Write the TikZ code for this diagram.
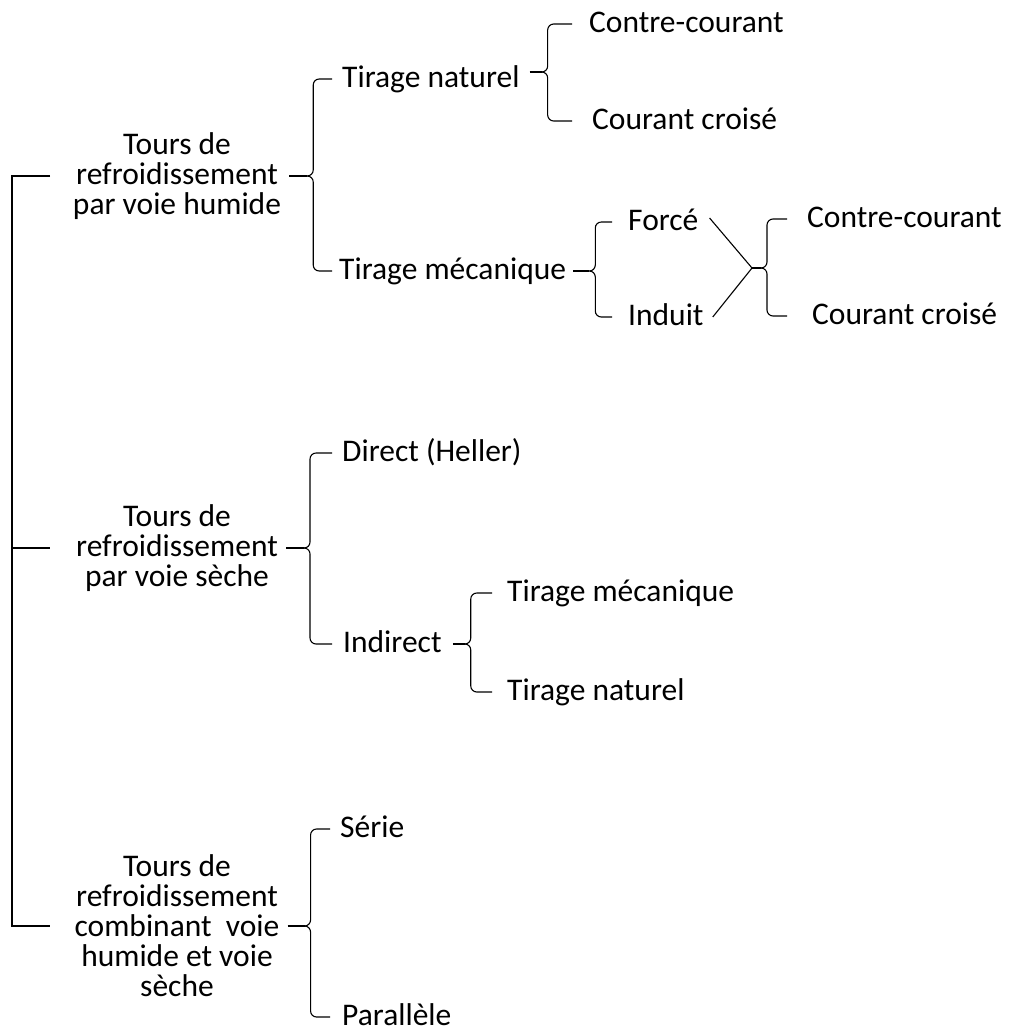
\documentclass[tikz,border=0pt]{standalone}
\usepackage{fontspec}
\setmainfont{Carlito}
\usepackage{tikz}

\tikzset{
  link/.style={line width=1.1pt},
  group/.style={align=center, inner xsep=8pt, inner ysep=0pt},
  leaf/.style={anchor=west, inner xsep=#1, inner ysep=0pt, text height=18pt, text depth=1pt},
  leaf/.default=10pt
}
% brace from a tip coordinate to each child
\newcommand{\branch}[2]{%
  \foreach \kid in {#2}
    \draw[link, rounded corners=6pt] (#1) -- ++(6,0) |- (\kid.west);
}

\begin{document}
\begin{tikzpicture}[x=1pt, y=-1pt, font=\fontsize{31.5}{30}\selectfont]
  \useasboundingbox (0,0) rectangle (1011,1034);

  % main groups
  \node[group] (h1) at (177,176) {Tours de\\refroidissement\\par voie humide};
  \node[group] (h2) at (177,548) {Tours de\\refroidissement\\par voie sèche};
  \node[group] (h3) at (177,926) {Tours de\\refroidissement\\combinant~ voie\\humide et voie\\sèche};

  \coordinate (bar) at (12,0);
  \coordinate (tick) at (50,0);
  \draw[link] (h1 -| tick) -- (h1 -| bar) -- (h3 -| bar) -- (h3 -| tick);
  \draw[link, line width=2pt] (h2 -| bar) -- (h2 -| tick);

  % voie humide
  \node[leaf] (tn) at (332,79) {Tirage naturel};
  \node[leaf=7pt] (tm) at (332,271) {Tirage mécanique};
  \node[leaf=17pt] (cc1) at (572,24) {Contre-courant};
  \node[leaf=20pt] (cr1) at (572,121) {Courant croisé};
  \node[leaf=16pt] (fo) at (612,222) {Forcé};
  \node[leaf=16pt] (id) at (612,317) {Induit};
  \node[leaf=20pt] (cc2) at (787,219) {Contre-courant};
  \node[leaf=25pt] (cr2) at (787,316) {Courant croisé};
  \coordinate (fi) at (752,268);

  \draw[link] (h1.east) -- ++(18,0) coordinate (h1-t);
  \branch{h1-t}{tn,tm}
  \draw[link] ([yshift=7]tn.east) -- ++(12,0) coordinate (tn-t);
  \branch{tn-t}{cc1,cr1}
  \draw[link] (tm.east) -- ++(16,0) coordinate (tm-t);
  \branch{tm-t}{fo,id}
  \draw[link] ([xshift=-5,yshift=4]fo.east) -- (fi);
  \draw[link] ([xshift=-7]id.east) -- (fi);
  \draw[link] (fi) -- ++(9,0) coordinate (fi-t);
  \branch{fi-t}{cc2,cr2}

  % voie seche
  \node[leaf] (di) at (332,453) {Direct (Heller)};
  \node[leaf=11pt] (ind) at (332,644) {Indirect};
  \node[leaf=15pt] (tm2) at (492,593) {Tirage mécanique};
  \node[leaf=15pt] (tn2) at (492,692) {Tirage naturel};

  \draw[link] (h2.east) -- ++(18,0) coordinate (h2-t);
  \branch{h2-t}{di,ind}
  \draw[link] (ind.east) -- ++(12,0) coordinate (ind-t);
  \branch{ind-t}{tm2,tn2}

  % combinant
  \node[leaf] (se) at (330,829) {Série};
  \node[leaf=12pt] (pa) at (330,1017) {Parallèle};

  \draw[link] (h3.east) -- ++(17,0) coordinate (h3-t);
  \branch{h3-t}{se,pa}
\end{tikzpicture}
\end{document}
